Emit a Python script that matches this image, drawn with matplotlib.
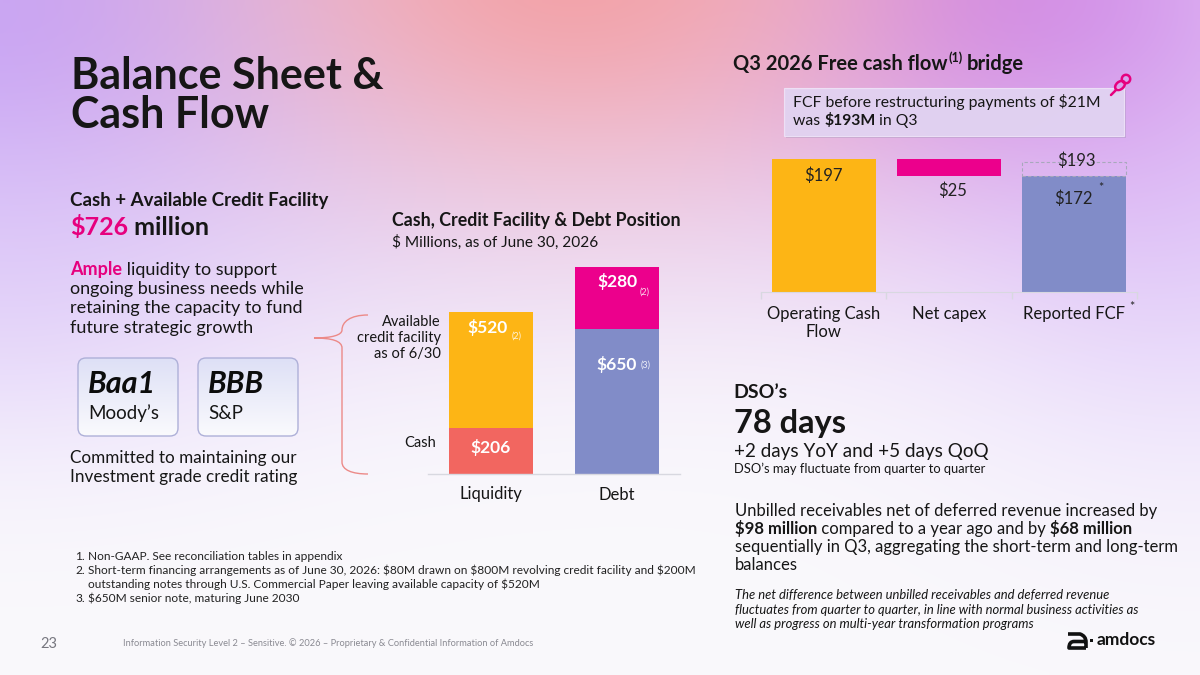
import numpy as np
import matplotlib
matplotlib.use("Agg")
import matplotlib.pyplot as plt
from matplotlib.patches import FancyBboxPatch, Rectangle, PathPatch, Circle, Ellipse
from matplotlib.path import Path
from matplotlib.font_manager import FontProperties

# ---------------- data ----------------
position_categories = ["Liquidity", "Debt"]
position_lower = [206, 650]            # cash | senior notes
position_upper = [520, 280]            # available credit facility | short-term financing
position_lower_labels = ["$206", "$650"]
position_upper_labels = ["$520", "$280"]
position_lower_notes = ["", "(3)"]
position_upper_notes = ["(2)", "(2)"]

fcf_categories = ["Operating Cash\nFlow", "Net capex", "Reported FCF"]
operating_cash_flow = 197
net_capex = 25
reported_fcf = 172
fcf_before_restructuring = 193

ratings = ["Baa1", "BBB"]
rating_agencies = ["Moody\u2019s", "S&P"]

footnotes = [
    ("1.", "Non-GAAP. See reconciliation tables in appendix"),
    ("2.", "Short-term financing arrangements as of June 30, 2026: $80M drawn on $800M revolving credit facility and $200M"),
    ("",   "outstanding notes through U.S. Commercial Paper leaving available capacity of $520M"),
    ("3.", "$650M senior note, maturing June 2030"),
]

# ---------------- style ----------------
FONT = "Lato"
YELLOW = "#FDB515"
PINK = "#EC008C"
BLUE = "#818CC8"
SALMON = "#F26660"
TXT = "#161616"
MAG = "#E6007E"

plt.rcParams['font.family'] = [FONT, 'DejaVu Sans']

fig = plt.figure(figsize=(12, 6.75), dpi=100)
bg = fig.add_axes([0, 0, 1, 1])
bg.set_xlim(0, 1200)
bg.set_ylim(675, 0)
bg.axis('off')
renderer = fig.canvas.get_renderer()

# ---------------- background gradient ----------------
H, W = 135, 240
yy, xx = np.mgrid[0:H, 0:W]
px = xx * 1200.0 / (W - 1)
py = yy * 675.0 / (H - 1)
img = np.ones((H, W, 3)) * np.array([250, 249, 252]) / 255.0


def blob(cx, cy, rx, ry, color, strength):
    global img
    a = strength * np.exp(-(((px - cx) / rx) ** 2 + ((py - cy) / ry) ** 2))
    c = np.array(color) / 255.0
    img = img * (1 - a[..., None]) + c * a[..., None]


blob(600, 230, 520, 160, (236, 224, 250), 0.6)
blob(0, 300, 260, 160, (228, 212, 250), 0.55)
blob(1200, 200, 280, 260, (220, 196, 250), 0.7)
blob(0, 0, 460, 270, (198, 162, 246), 0.95)
blob(1010, -10, 320, 210, (206, 138, 236), 0.95)
blob(570, -40, 330, 220, (243, 160, 165), 0.95)
bg.imshow(img, extent=[0, 1200, 675, 0], interpolation='bilinear', aspect='auto', zorder=0)


# ---------------- text helpers ----------------
def text_width(s, size, weight="normal", style="normal"):
    fp = FontProperties(family=FONT, size=size, weight=weight, style=style)
    w1, _, _ = renderer.get_text_width_height_descent(s + "|", fp, ismath=False)
    w2, _, _ = renderer.get_text_width_height_descent("|", fp, ismath=False)
    return w1 - w2


def runs(x, y, parts, size, color=TXT, weight="normal", style="normal"):
    for p in parts:
        if isinstance(p, str):
            p = (p, {})
        s, kw = p
        sz = kw.get("size", size)
        wt = kw.get("weight", weight)
        st = kw.get("style", style)
        bg.text(x, y + kw.get("dy", 0), s, fontsize=sz, fontweight=wt, fontstyle=st,
                color=kw.get("color", color), ha='left', va='baseline', zorder=5)
        x += text_width(s, sz, wt, st)
    return x


B = {"weight": "bold"}

# ---------------- left column ----------------
runs(71, 89, ["Balance Sheet &"], 31, weight="bold")
runs(71, 128, ["Cash Flow"], 31, weight="bold")

runs(70, 206, ["Cash + Available Credit Facility"], 13.5, weight="bold")
runs(70, 235, [("$726", {"color": MAG}), " million"], 18, weight="bold")

runs(70, 275, [("Ample", {"color": MAG, "weight": "bold"}), " liquidity to support"], 13)
for i, line in enumerate(["ongoing business needs while",
                          "retaining the capacity to fund",
                          "future strategic growth"]):
    runs(70, 294 + 19.3 * i, [line], 13)

# rating boxes
for i, (r, ag) in enumerate(zip(ratings, rating_agencies)):
    x0 = 78 + 120 * i
    box = FancyBboxPatch((x0, 358), 100, 78, boxstyle="round,pad=0,rounding_size=8",
                         facecolor='none', edgecolor='#AEB0D8', linewidth=1.0, zorder=4)
    bg.add_patch(box)
    grad = np.linspace(0, 1, 50)[:, None, None]
    top = np.array([222, 224, 246]) / 255.0
    bot = np.array([250, 250, 253]) / 255.0
    gimg = top * (1 - grad) + bot * grad
    gimg = np.repeat(gimg, 2, axis=1)
    im = bg.imshow(gimg, extent=[x0, x0 + 100, 436, 358], aspect='auto', zorder=3,
                   interpolation='bilinear')
    im.set_clip_path(box)
    runs(x0 + 10, 393, [r], 22, weight="bold", style="italic", color="#0c0c0c")
    runs(x0 + 10, 419, [ag], 13.5)

runs(70, 463, ["Committed to maintaining our"], 12.3)
runs(70, 482, ["Investment grade credit rating"], 12.3)

# footnotes
fy = [560, 574, 588, 602]
for (num, txt), y in zip(footnotes, fy):
    if num:
        runs(75, y, [num], 8.6, color="#222222")
    runs(88, y, [txt], 8.6, color="#222222")

runs(40, 648, ["23"], 10.5, color="#77777f")
runs(123, 646, ["Information Security Level 2 \u2013 Sensitive. \u00a9 2026 \u2013 Proprietary & Confidential Information of Amdocs"],
     6.7, color="#8a8a92")

# ---------------- middle chart ----------------
runs(392, 226, ["Cash, Credit Facility & Debt Position"], 12.8, weight="bold")
runs(392, 247, ["$ Millions, as of June 30, 2026"], 11.1)

axm = fig.add_axes([428 / 1200, 1 - 474 / 675, 252 / 1200, 223 / 675])
axm.patch.set_alpha(0)
xm = np.arange(len(position_categories))
lower_colors = [SALMON, BLUE]
upper_colors = [YELLOW, PINK]
axm.bar(xm, position_lower, width=0.667, color=lower_colors, zorder=2)
axm.bar(xm, position_upper, width=0.667, bottom=position_lower, color=upper_colors, zorder=2)
axm.set_xlim(-0.5, 1.5)
axm.set_ylim(0, 1000)
for s in ["top", "right", "left"]:
    axm.spines[s].set_visible(False)
axm.spines["bottom"].set_color("#D8D8E0")
axm.spines["bottom"].set_linewidth(1.0)
axm.set_yticks([])
axm.set_xticks(xm, position_categories, fontsize=12, color=TXT)
axm.tick_params(axis='x', length=0, pad=9)

# stack labels
upper_offsets = [70, 67]
lower_offsets = [None, 160]
note_dx = [0.2, 0.22]
for i in range(len(xm)):
    tot = position_lower[i] + position_upper[i]
    yu = tot - upper_offsets[i]
    axm.text(xm[i] - 0.03 * (i == 0), yu, position_upper_labels[i], ha='center', va='center',
             color='white', fontsize=12.5, fontweight='bold', zorder=3)
    axm.text(xm[i] + note_dx[i], yu - (38 if i == 0 else 45), position_upper_notes[i], ha='center',
             va='center', color='white', fontsize=6.5, alpha=0.85, zorder=3)
    if lower_offsets[i] is None:
        yl = position_lower[i] / 2 + 15
    else:
        yl = position_lower[i] - lower_offsets[i]
    axm.text(xm[i], yl, position_lower_labels[i], ha='center', va='center',
             color='white', fontsize=12.5, fontweight='bold', zorder=3)
    if position_lower_notes[i]:
        axm.text(xm[i] + 0.23, yl, position_lower_notes[i], ha='center', va='center',
                 color='white', fontsize=6.5, alpha=0.85, zorder=3)

# side labels and brace
for i, line in enumerate(["Available", "credit facility", "as of 6/30"]):
    bg.text(441, 326 + 16 * i, line, ha='right', va='baseline', fontsize=10.5, color=TXT, zorder=5)
bg.text(436, 447, "Cash", ha='right', va='baseline', fontsize=10.5, color=TXT, zorder=5)

brace = Path([(368, 315), (350, 315), (342, 322), (342, 330),
              (342, 335), (332, 338), (314, 338),
              (332, 338), (342, 341), (342, 348),
              (342, 462),
              (342, 470), (352, 474), (368, 474)],
             [Path.MOVETO, Path.CURVE4, Path.CURVE4, Path.CURVE4,
              Path.CURVE4, Path.CURVE4, Path.CURVE4,
              Path.CURVE4, Path.CURVE4, Path.CURVE4,
              Path.LINETO,
              Path.CURVE4, Path.CURVE4, Path.CURVE4])
bg.add_patch(PathPatch(brace, facecolor='none', edgecolor='#EC8A88', linewidth=1.0, zorder=4))

# ---------------- FCF bridge ----------------
xe = runs(733, 70, ["Q3 2026 Free cash flow"], 14.5, weight="bold")
xe = runs(xe + 1, 62, ["(1)"], 9, weight="bold")
runs(xe + 4, 70, ["bridge"], 14.5, weight="bold")

# callout
bg.add_patch(Rectangle((786, 90), 340, 48, facecolor='#9a90b0', alpha=0.35, edgecolor='none', zorder=3))
bg.add_patch(Rectangle((784, 88), 340, 48, facecolor='#E4D6F4', alpha=0.9, edgecolor='#EEE4F8',
                       linewidth=0.8, zorder=3))
runs(793, 107, ["FCF before restructuring payments of $21M"], 11.3)
runs(793, 125, ["was ", ("$193M", B), " in Q3"], 11.3)

# pin icon
pin_c = MAG
bg.add_patch(Circle((1126, 79), 4.2, facecolor='none', edgecolor=pin_c, linewidth=1.8, zorder=6))
bg.add_patch(Ellipse((1120, 85.5), 11, 7.5, angle=-40, facecolor='none', edgecolor=pin_c, linewidth=1.8, zorder=6))
bg.plot([1116, 1111], [90, 95], color=pin_c, linewidth=1.8, zorder=6, solid_capstyle='round')

axf = fig.add_axes([761 / 1200, 1 - 292 / 675, 376 / 1200, 148.2 / 675])
axf.patch.set_alpha(0)
xf = np.arange(len(fcf_categories))
bw = 0.83
axf.bar(xf[0], operating_cash_flow, width=bw, color=YELLOW, zorder=2)
axf.bar(xf[1], net_capex, width=bw, bottom=operating_cash_flow - net_capex, color=PINK, zorder=2)
axf.bar(xf[2], reported_fcf, width=bw, color=BLUE, zorder=2)
axf.bar(xf[2], fcf_before_restructuring - reported_fcf, width=bw, bottom=reported_fcf,
        fill=False, edgecolor='#A8A8BC', linestyle=(0, (3, 2)), linewidth=0.8, zorder=2)
axf.set_xlim(-0.5, 2.5)
axf.set_ylim(0, 220)
for s in ["top", "right", "left"]:
    axf.spines[s].set_visible(False)
axf.spines["bottom"].set_color("#D8D8E0")
axf.set_yticks([])
axf.set_xticks(xf, fcf_categories, fontsize=12, color=TXT, linespacing=1.15)
axf.set_xticks([-0.5, 0.5, 1.5, 2.5], minor=True)
axf.tick_params(axis='x', which='major', length=0, pad=10)
axf.tick_params(axis='x', which='minor', length=5, color='#D8D8E0', width=1)

lab_kw = dict(ha='center', va='center', fontsize=12, color='#222222', zorder=3)
axf.text(xf[0], operating_cash_flow - 25, "$%d" % operating_cash_flow, **lab_kw)
axf.text(xf[1] + 0.03, operating_cash_flow - net_capex - 21, "$%d" % net_capex, **lab_kw)
axf.text(xf[2] + 0.02, fcf_before_restructuring + 1.5, "$%d" % fcf_before_restructuring, **lab_kw)
axf.text(xf[2] - 0.01, reported_fcf - 34, "$%d" % reported_fcf, **lab_kw)
axf.text(xf[2] + 0.21, reported_fcf - 18, "*", ha='center', va='center', fontsize=9, color='#222222')
bg.text(1132, 307, "*", ha='center', va='center', fontsize=9, color='#222222', zorder=5)

# ---------------- DSO ----------------
runs(733, 398, ["DSO\u2019s"], 14, weight="bold")
runs(734, 433, ["78 days"], 23.5, weight="bold")
runs(734, 457, ["+2 days YoY and +5 days QoQ"], 13.6)
runs(734, 473, ["DSO\u2019s may fluctuate from quarter to quarter"], 9.3)

para = [
    ["Unbilled receivables net of deferred revenue increased by"],
    [("$98 million", B), " compared to a year ago and by ", ("$68 million", B)],
    ["sequentially in Q3, aggregating the short-term and long-term"],
    ["balances"],
]
for i, p in enumerate(para):
    runs(735, 516 + 18 * i, p, 12.0)

ital = ["The net difference between unbilled receivables and deferred revenue",
        "fluctuates from quarter to quarter, in line with normal business activities as",
        "well as progress on multi-year transformation programs"]
for i, line in enumerate(ital):
    runs(735, 599 + 14.5 * i, [line], 9.4, style="italic")

# ---------------- logo ----------------
logo = Path([(1068, 634), (1080, 634), (1086, 636), (1086, 642), (1086, 648),
             (1086, 641.5), (1074, 641.5), (1069, 641.5), (1069, 648), (1074, 648), (1086, 648)],
            [Path.MOVETO, Path.LINETO, Path.CURVE3, Path.CURVE3, Path.LINETO,
             Path.MOVETO, Path.LINETO, Path.CURVE3, Path.CURVE3, Path.LINETO, Path.LINETO])
bg.add_patch(PathPatch(logo, facecolor='none', edgecolor='#111111', linewidth=2.6, zorder=6,
                       capstyle='butt', joinstyle='round'))
bg.add_patch(Rectangle((1089.5, 638.5), 3, 3, facecolor='#111111', edgecolor='none', zorder=6))
runs(1097, 645, ["amdocs"], 12.5, weight="bold", color="#111111")

fig.savefig("out.png", dpi=100)
